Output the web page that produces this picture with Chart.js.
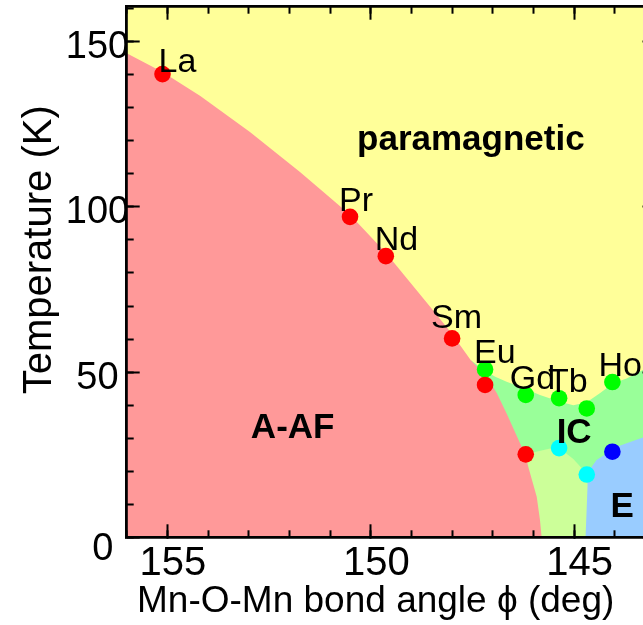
<!DOCTYPE html>
<html lang="en">
<head>
<meta charset="UTF-8">
<title>RMnO3 magnetic phase diagram</title>
<style>
    html, body { margin: 0; padding: 0; background: #fff; overflow: hidden; }
    #wrap { width: 670px; height: 625px; }
</style>
<script src="https://cdn.jsdelivr.net/npm/chart.js@4.4.1/dist/chart.umd.min.js"></script>
</head>
<body>
<div id="wrap"><canvas id="phaseChart" width="670" height="625"></canvas></div>
<script>
// Transition temperatures (K) of RMnO3 against the Mn-O-Mn bond angle (deg)
const rareEarth = ['La', 'Pr', 'Nd', 'Sm', 'Eu', 'Gd', 'Tb', 'Dy', 'Ho'];
const bondAngle = [155.12, 150.51, 149.63, 148.0, 147.19, 146.19, 145.37, 144.69, 144.06];
const tAAF  = [140.2, 97.0, 85.1, 60.2, 46.1, 25.1, null, null, null];  // A-type AF (red)
const tIC   = [null, null, null, null, 50.8, 43.1, 42.1, 39.0, 47.0];   // incommensurate (green)
const tLock = [null, null, null, null, null, null, 27.0, 19.0, null];   // lock-in (cyan)
const tE    = [null, null, null, null, null, null, null, null, 25.9];   // E-type (blue)
const labelled = ['La', 'Pr', 'Nd', 'Sm', 'Eu', 'Gd', 'Tb', 'Ho'];

// phase boundaries, [angle, T]
const paraAAF = [[156.0, 146.5], [155.12, 140.8], [154.19, 133.6], [152.97, 122.7], [151.74, 110.6],
                 [151.25, 105.4], [150.51, 97.6], [149.63, 86.1], [149.04, 77.3], [148.54, 69.8],
                 [148.01, 61.7], [147.54, 53.6]];
const paraIC = [[147.54, 53.6], [147.19, 50.4], [146.94, 48.6], [146.66, 47.1], [146.33, 45.6],
                [145.84, 43.1], [145.35, 41.0], [145.02, 40.0], [144.69, 40.9], [144.36, 43.7],
                [144.04, 46.6], [143.71, 48.1], [143.31, 50.6], [143.0, 52.5]];
const aafIC  = [[147.54, 53.6], [147.15, 48.6], [146.90, 43.6], [146.66, 37.5], [146.33, 28.5], [146.20, 25.1]];
const aafLow = [[146.20, 25.1], [146.13, 21.4], [145.92, 12.3], [145.84, 5.2], [145.80, 0]];
const icLow  = [[146.20, 25.1], [145.59, 26.9], [145.35, 26.9], [145.02, 23.7], [144.69, 19.2]];
const lowE   = [[144.69, 19.2], [144.67, 15.8], [144.69, 9.3], [144.72, 0]];
const icE    = [[144.69, 19.2], [144.45, 23.4], [144.20, 25.4], [143.95, 27.4], [143.71, 28.5],
                [143.31, 30.2], [143.0, 31.4]];

const phaseName  = ['paramagnetic', 'A-AF', 'IC', 'E'];
const phaseAngle = [147.54, 151.92, 145.0, 143.82];
const phaseTemp  = [117.2, 30.0, 28.5, 6.2];

const xTicks = [145, 150, 155];
const yTicks = [0, 50, 100, 150];

const X_RANGE = {min: 143, max: 156, reverse: true};
const Y_RANGE = {min: 0, max: 160.6};

const FONT = "'Liberation Sans', Arial, Helvetica, sans-serif";
Chart.defaults.font.family = FONT;
Chart.defaults.color = '#000';

const pts = arr => arr.map(([x, y]) => ({x, y}));
const series = temps => bondAngle.map((x, i) => ({x, y: temps[i]})).filter(p => p.y !== null);

function steps(from, to, step) {
    const out = [];
    for (let v = from; v <= to + 1e-9; v += step) out.push(+v.toFixed(3));
    return out;
}

// closed outlines of each phase; later layers are painted over earlier ones
const regions = [
    {color: '#ffff99', shape: [[156, 0], [143, 0], [143, Y_RANGE.max], [156, Y_RANGE.max]]},
    {color: '#99ff99', shape: [...paraIC, [143, 0], [147.6, 0]]},
    {color: '#ccff99', shape: [...icLow, [144.5, 0], [146.25, 0]]},
    {color: '#99ccff', shape: [...icE, [143, 0], ...lowE.slice().reverse()]},
    {color: '#ff9999', shape: [[156, 0], ...paraAAF, ...aafIC, ...aafLow]}
];

const regionSets = regions.map((r, i) => ({
    data: pts(r.shape),
    fill: 'shape',
    backgroundColor: r.color,
    borderWidth: 0,
    pointRadius: 0,
    tension: 0,
    order: 10 - i
}));

const dotSet = (temps, color) => ({
    data: series(temps),
    showLine: false,
    pointRadius: 8.3,
    pointHoverRadius: 8.3,
    pointBorderWidth: 0,
    pointBackgroundColor: color,
    order: 0
});

function clearPadding(s) {
    s.paddingLeft = s.paddingRight = s.paddingTop = s.paddingBottom = 0;
}

// one side of the frame: inward tick marks, optional border line
function frameAxis(position, range, values, tickLen, withBorder) {
    const horizontal = position === 'top' || position === 'bottom';
    return {
        type: 'linear',
        position,
        ...range,
        weight: withBorder ? 1 : 0,
        afterBuildTicks: s => { s.ticks = values.map(value => ({value})); },
        ticks: {display: false},
        grid: {drawOnChartArea: false, tickLength: -tickLen, tickWidth: 2, tickColor: '#000', z: 1},
        border: {display: withBorder, width: 2.8, color: '#000', z: 1},
        afterFit: s => {
            if (horizontal) s.height = 0; else s.width = 0;
            clearPadding(s);
        }
    };
}

const xMain = frameAxis('bottom', X_RANGE, xTicks, 13, true);
Object.assign(xMain, {
    ticks: {display: true, font: {size: 40}, padding: 15.3, autoSkip: false, maxRotation: 0,
            callback: v => ' ' + v},
    title: {display: true, text: 'Mn-O-Mn bond angle ϕ (deg)   ', font: {size: 37},
            padding: {top: 0, bottom: 0.6}},
    afterFit: s => { s.height = 87.7; clearPadding(s); }
});

const yMain = frameAxis('left', Y_RANGE, yTicks, 13, true);
Object.assign(yMain, {
    // labels sit a little below their tick; the zero sits lower and further right
    ticks: {display: true, font: {size: 38, lineHeight: '12px'}, padding: 10.5, crossAlign: 'center',
            callback: v => (v === 0 ? ['', '', ' 0'] : ['', String(v)])},
    title: {display: true, text: '    Temperature (K)', font: {size: 40},
            padding: {top: 15.7, bottom: 0}},
    afterFit: s => { s.width = 126.7; clearPadding(s); }
});

const annotate = {
    id: 'annotate',
    afterDatasetsDraw(chart) {
        const {ctx, scales: {x, y}} = chart;
        const labelShift = {La: [7, 4], Sm: [-10, -4], Gd: [-5, 0], Ho: [-3, 0]};
        ctx.save();
        ctx.fillStyle = '#000';
        ctx.textBaseline = 'alphabetic';
        ctx.textAlign = 'left';
        ctx.font = `34px ${FONT}`;
        rareEarth.forEach((name, i) => {
            if (!labelled.includes(name)) return;
            const t = tIC[i] !== null ? tIC[i] : tAAF[i];
            const [dx, dy] = labelShift[name] || [0, 0];
            ctx.fillText(name, x.getPixelForValue(bondAngle[i]) - 11 + dx, y.getPixelForValue(t) - 6 + dy);
        });
        ctx.textAlign = 'center';
        ctx.font = `bold 35px ${FONT}`;
        phaseName.forEach((name, i) => {
            ctx.fillText(name, x.getPixelForValue(phaseAngle[i]), y.getPixelForValue(phaseTemp[i]));
        });
        ctx.restore();
    }
};

new Chart(document.getElementById('phaseChart'), {
    type: 'line',
    data: {
        datasets: [
            dotSet(tAAF, '#ff0000'),
            dotSet(tIC, '#00ff00'),
            dotSet(tLock, '#00ffff'),
            dotSet(tE, '#0000ff'),
            ...regionSets
        ]
    },
    options: {
        responsive: false,
        animation: false,
        events: [],
        layout: {padding: {top: 6.7, right: 14.5, bottom: 0, left: 0}, autoPadding: false},
        plugins: {legend: {display: false}, tooltip: {enabled: false}},
        scales: {
            x: xMain,
            xMinor: frameAxis('bottom', X_RANGE, steps(143, 156, 1), 7, false),
            xTop: frameAxis('top', X_RANGE, xTicks, 13, true),
            xTopMinor: frameAxis('top', X_RANGE, steps(143, 156, 1), 7, false),
            y: yMain,
            yMinor: frameAxis('left', Y_RANGE, steps(0, 160, 10), 7, false),
            yRight: frameAxis('right', Y_RANGE, yTicks, 13, true),
            yRightMinor: frameAxis('right', Y_RANGE, steps(0, 160, 10), 7, false)
        }
    },
    plugins: [annotate]
});
</script>
</body>
</html>
